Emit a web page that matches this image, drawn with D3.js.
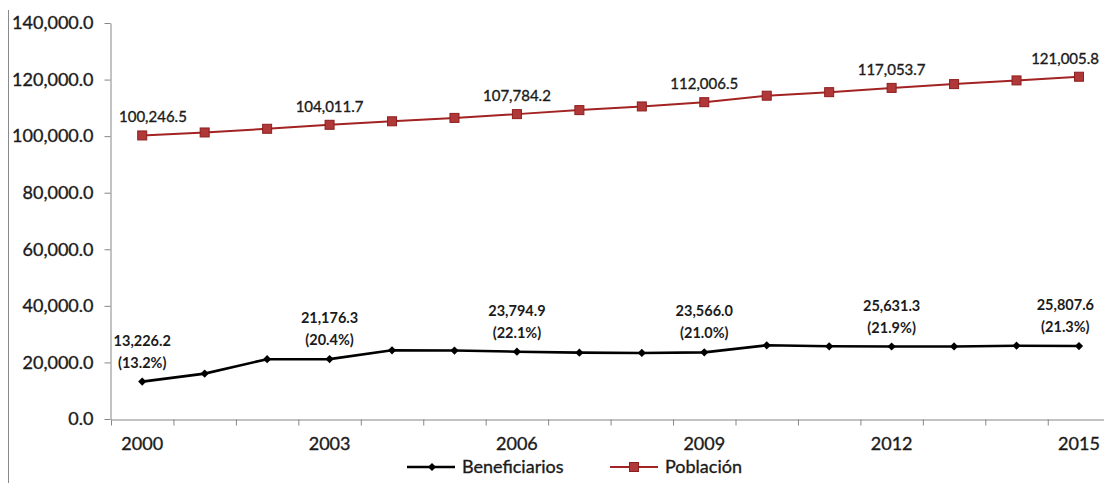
<!DOCTYPE html>
<html>
<head>
<meta charset="utf-8">
<script src="https://cdn.jsdelivr.net/npm/d3@7"></script>
<style>
  html, body { margin: 0; padding: 0; background: #fff; }
  svg { display: block; font-family: Lato, "Open Sans", sans-serif; }
  .heavy { stroke: #1b1b1b; stroke-width: 0.35px; }
</style>
</head>
<body>
<svg id="chart" width="1104" height="483"></svg>
<script>
// Años de la serie
const years = ["2000","2001","2002","2003","2004","2005","2006","2007",
               "2008","2009","2010","2011","2012","2013","2014","2015"];
// Beneficiarios (miles de personas)
const beneficiarios = [13226.2, 16050, 21150, 21176.3, 24300, 24200, 23794.9, 23450,
                       23350, 23566.0, 26050, 25700, 25631.3, 25650, 25900, 25807.6];
// Población total (miles de personas)
const poblacion = [100246.5, 101300, 102600, 104011.7, 105250, 106450, 107784.2, 109200,
                   110500, 112006.5, 114300, 115550, 117053.7, 118400, 119700, 121005.8];
// Años con etiqueta en el eje y en los puntos
const labeledYears = ["2000","2003","2006","2009","2012","2015"];
// Marcas del eje vertical
const yTicks = [0, 20000, 40000, 60000, 80000, 100000, 120000, 140000];

const svg = d3.select("#chart");
const x0 = 111, step = 62.45;
const x = d3.scaleBand().domain(years).range([x0, x0 + step * years.length]).padding(0);
const xIdx = d3.scaleLinear().domain([0, years.length]).range(x.range());
const y = d3.scaleLinear().domain([0, 140000]).range([419, 23]);
const cx = d => x(d) + x.bandwidth() / 2;

const axisColor = "#868686";
const textColor = "#1b1b1b";

// Marco izquierdo
svg.append("line").attr("x1", 8.5).attr("x2", 8.5).attr("y1", 10).attr("y2", 483)
  .attr("stroke", "#8a8a8a").attr("stroke-width", 1);

// Eje Y
const yAxis = svg.append("g").attr("transform", `translate(${x0 - 0.5},0)`)
  .call(d3.axisLeft(y).tickValues(yTicks).tickFormat(d3.format(",.1f"))
        .tickSize(6).tickSizeOuter(0).tickPadding(11));
yAxis.select(".domain").attr("stroke", axisColor);
yAxis.selectAll(".tick line").attr("stroke", axisColor);
yAxis.selectAll("text").attr("fill", textColor).attr("class", "heavy")
  .style("font-size", "18px").style("font-family", "Lato, sans-serif");

// Eje X: marcas entre categorías
const xAxis = svg.append("g").attr("transform", `translate(0,${y(0) + 0.5})`)
  .call(d3.axisBottom(xIdx).tickValues(d3.range(years.length + 1)).tickFormat("")
        .tickSize(6).tickSizeOuter(0));
xAxis.select(".domain").attr("stroke", axisColor);
xAxis.selectAll(".tick line").attr("stroke", axisColor);

// Etiquetas de años
const xLabels = svg.append("g").attr("transform", `translate(0,${y(0)})`)
  .call(d3.axisBottom(x).tickValues(labeledYears).tickSize(0).tickPadding(18));
xLabels.select(".domain").remove();
xLabels.selectAll("text").attr("fill", textColor).attr("class", "heavy")
  .style("font-size", "18px").style("font-family", "Lato, sans-serif");

// Líneas
const line = d3.line().x((d, i) => cx(years[i])).y(d => y(d));

svg.append("path").datum(poblacion).attr("d", line)
  .attr("fill", "none").attr("stroke", "#a32222").attr("stroke-width", 2);
svg.append("path").datum(beneficiarios).attr("d", line)
  .attr("fill", "none").attr("stroke", "#000").attr("stroke-width", 2.6);

// Marcadores
const sq = 9;
svg.append("g").selectAll("rect").data(poblacion).join("rect")
  .attr("x", (d, i) => cx(years[i]) - sq / 2).attr("y", d => y(d) - sq / 2)
  .attr("width", sq).attr("height", sq)
  .attr("fill", "#b03838").attr("stroke", "#8e1e1e").attr("stroke-width", 1);

const diamond = d3.symbol().type(d3.symbolSquare).size(34);
svg.append("g").selectAll("path").data(beneficiarios).join("path")
  .attr("d", diamond)
  .attr("transform", (d, i) => `translate(${cx(years[i])},${y(d)}) rotate(45)`)
  .attr("fill", "#000");

// Etiquetas de datos
function placeLabel(cxv, w, minLeft, maxRight) {
  let c = cxv;
  if (c - w / 2 < minLeft) c = minLeft + w / 2;
  if (c + w / 2 > maxRight) c = maxRight - w / 2;
  return c;
}

const popLabels = svg.append("g").style("font-size", "15px").attr("fill", textColor);
labeledYears.forEach(yr => {
  const i = years.indexOf(yr);
  const t = popLabels.append("text").attr("text-anchor", "middle").attr("class", "heavy")
    .attr("y", y(poblacion[i]) - 13).text(d3.format(",.1f")(poblacion[i]));
  const w = t.node().getComputedTextLength();
  t.attr("x", placeLabel(cx(yr), w, 119, 1099));
});

const benLabels = svg.append("g").style("font-size", "14.5px").style("font-weight", "bold")
  .attr("fill", textColor);
labeledYears.forEach(yr => {
  const i = years.indexOf(yr);
  const v = beneficiarios[i];
  const pct = v / poblacion[i] * 100;
  const g = benLabels.append("g");
  const t1 = g.append("text").attr("text-anchor", "middle")
    .attr("y", y(v) - 36).text(d3.format(",.1f")(v));
  const t2 = g.append("text").attr("text-anchor", "middle")
    .attr("y", y(v) - 14).text(`(${pct.toFixed(1)}%)`);
  const w = Math.max(t1.node().getComputedTextLength(), t2.node().getComputedTextLength());
  const c = placeLabel(cx(yr), w, 112, 1094);
  t1.attr("x", c); t2.attr("x", c);
});

// Leyenda
const legend = svg.append("g").style("font-size", "18px").attr("fill", textColor);
const ly = 467;
legend.append("line").attr("x1", 407).attr("x2", 455).attr("y1", ly).attr("y2", ly)
  .attr("stroke", "#000").attr("stroke-width", 2.6);
legend.append("path").attr("d", diamond)
  .attr("transform", `translate(432,${ly}) rotate(45)`).attr("fill", "#000");
legend.append("text").attr("x", 462).attr("y", ly).attr("dy", "0.35em")
  .attr("class", "heavy").text("Beneficiarios");

legend.append("line").attr("x1", 610).attr("x2", 658).attr("y1", ly).attr("y2", ly)
  .attr("stroke", "#a32222").attr("stroke-width", 2);
legend.append("rect").attr("x", 634 - sq / 2).attr("y", ly - sq / 2)
  .attr("width", sq).attr("height", sq)
  .attr("fill", "#b03838").attr("stroke", "#8e1e1e").attr("stroke-width", 1);
legend.append("text").attr("x", 665).attr("y", ly).attr("dy", "0.35em")
  .attr("class", "heavy").text("Población");
</script>
</body>
</html>
